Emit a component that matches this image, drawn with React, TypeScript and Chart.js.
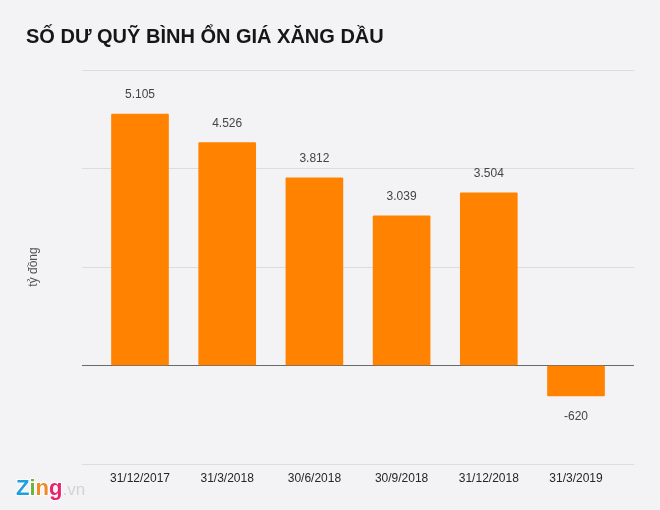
import React, { useEffect, useRef } from "react";
import { Chart, registerables } from "chart.js";

Chart.register(...registerables);

const titleText = "SỐ DƯ QUỸ BÌNH ỔN GIÁ XĂNG DẦU";
const yAxisLabel = "tỷ đồng";
const categories = ["31/12/2017", "31/3/2018", "30/6/2018", "30/9/2018", "31/12/2018", "31/3/2019"];
const balances = [5105, 4526, 3812, 3039, 3504, -620];
const valueLabels = ["5.105", "4.526", "3.812", "3.039", "3.504", "-620"];
const logoLetters = ["Z", "i", "n", "g"];
const logoColors = ["#1d9fe0", "#6db33f", "#f08a24", "#e8246e"];
const logoSuffix = ".vn";

const BG = "#f3f2f5";
const FONT = "'Liberation Sans', Arial, sans-serif";

const valueLabelPlugin = {
  id: "valueLabels",
  afterDatasetsDraw(chart: any) {
    const { ctx } = chart;
    const meta = chart.getDatasetMeta(0);
    ctx.save();
    ctx.font = `12px ${FONT}`;
    ctx.fillStyle = "#444444";
    ctx.textAlign = "center";
    ctx.textBaseline = "middle";
    meta.data.forEach((bar: any, i: number) => {
      const dy = balances[i] >= 0 ? -19 : 21;
      ctx.fillText(valueLabels[i], bar.x, bar.y + dy);
    });
    ctx.restore();
  },
};

const logoPlugin = {
  id: "logo",
  afterDraw(chart: any) {
    const { ctx } = chart;
    ctx.save();
    ctx.textBaseline = "alphabetic";
    ctx.textAlign = "left";
    ctx.lineJoin = "round";
    ctx.font = `bold 22px ${FONT}`;
    let x = 16;
    logoLetters.forEach((letter, i) => {
      ctx.lineWidth = 2;
      ctx.strokeStyle = "#ffffff";
      ctx.strokeText(letter, x, 495);
      ctx.fillStyle = logoColors[i];
      ctx.fillText(letter, x, 495);
      x += ctx.measureText(letter).width;
    });
    ctx.font = `17px ${FONT}`;
    ctx.fillStyle = "#d4d3d6";
    ctx.fillText(logoSuffix, x, 495);
    ctx.restore();
  },
};

export default function App() {
  const ref = useRef<HTMLCanvasElement>(null);

  useEffect(() => {
    document.body.style.margin = "0";
    document.body.style.background = BG;
    const chart = new Chart(ref.current as HTMLCanvasElement, {
      type: "bar",
      data: {
        datasets: [
          {
            data: balances.map((v, i) => ({ x: i, y: v })),
            backgroundColor: "#ff8300",
            barThickness: 57,
            borderRadius: 1,
            borderSkipped: false,
          },
        ],
      },
      options: {
        animation: false,
        responsive: false,
        devicePixelRatio: 1,
        layout: { padding: { left: 26, right: 26, top: 0, bottom: 0 } },
        plugins: {
          legend: { display: false },
          tooltip: { enabled: false },
          title: {
            display: true,
            text: titleText,
            align: "start",
            color: "#161616",
            font: { family: FONT, size: 20, weight: "bold" },
            padding: { top: 25, bottom: 21 },
          },
        },
        scales: {
          x: {
            type: "linear",
            offset: false,
            bounds: "data",
            min: -0.665,
            max: 5.665,
            afterBuildTicks(scale: any) {
              scale.ticks = categories.map((_, i) => ({ value: i }));
            },
            afterFit(scale: any) {
              scale.height = 46;
            },
            grid: { display: false, drawTicks: false },
            border: { display: false },
            ticks: {
              autoSkip: false,
              maxRotation: 0,
              padding: 7,
              color: "#262626",
              font: { family: FONT, size: 12 },
              callback: (v: any) => categories[v] ?? "",
            },
          },
          y: {
            min: -2000,
            max: 6000,
            afterFit(scale: any) {
              scale.width = 56;
            },
            title: {
              display: true,
              text: yAxisLabel,
              color: "#555555",
              font: { family: FONT, size: 12 },
              padding: { top: 0, bottom: 0 },
            },
            ticks: { display: false, stepSize: 2000 },
            border: { display: false },
            grid: {
              drawTicks: false,
              lineWidth: 1,
              color: (c: any) => (c.tick.value === 0 ? "#6a6a6a" : "#dcdbde"),
            },
          },
        },
      } as any,
      plugins: [valueLabelPlugin, logoPlugin],
    });
    return () => chart.destroy();
  }, []);

  return (
    <div style={{ position: "absolute", left: 0, top: 0, width: 660, height: 510, background: BG }}>
      <canvas ref={ref} width={660} height={510} style={{ display: "block" }} />
    </div>
  );
}
